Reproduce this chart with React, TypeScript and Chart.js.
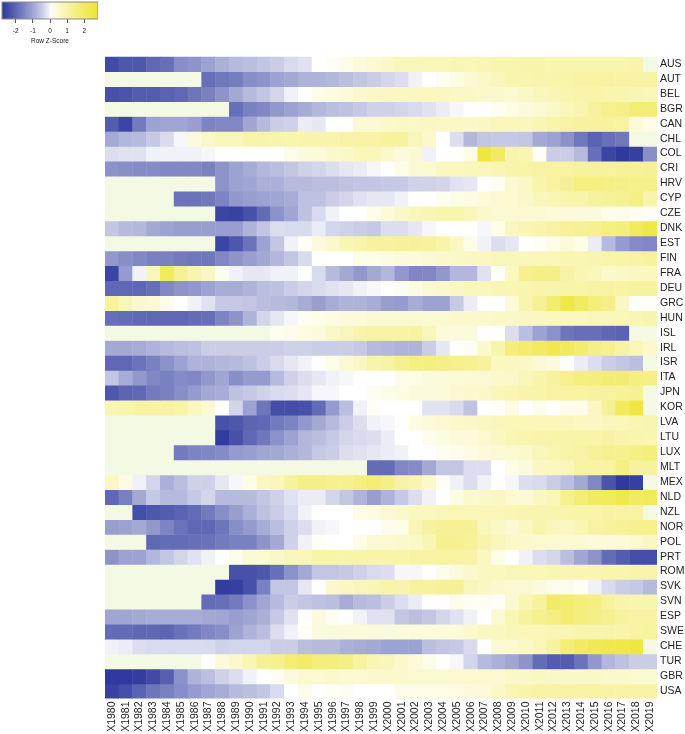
import React, { useEffect, useRef } from "react";
import { Chart, registerables } from "chart.js";

Chart.register(...registerables);

const N = null;
const years = Array.from({ length: 40 }, (_, i) => "X" + (1980 + i));
const countries = ["AUS","AUT","BEL","BGR","CAN","CHL","COL","CRI","HRV","CYP","CZE","DNK","EST","FIN","FRA","DEU","GRC","HUN","ISL","IRL","ISR","ITA","JPN","KOR","LVA","LTU","LUX","MLT","MEX","NLD","NZL","NOR","POL","PRT","ROM","SVK","SVN","ESP","SWE","CHE","TUR","GBR","USA"];

const AUS = [-2.5,-2.3,-2.3,-2.0,-1.9,-1.4,-1.3,-1.1,-.9,-.75, -.7,-.6,-.5,-.35,-.25,0,.05,.15,.3,.45, .55,.7,.75,.75,.75,.8,.75,.8,.85,.85, .9,.9,.85,.85,.85,.85,.85,.85,.9,N];
const AUT = [N,N,N,N,N,N,N,-1.9,-1.75,-1.65, -1.4,-1.3,-1.1,-1,-.85,-.85,-.8,-.7,-.6,-.5, -.4,-.3,-.1,0,.1,.25,.4,.55,.7,.85, .85,.9,.9,.95,1,1,1,1,1,1];
const BEL = [-2.4,-2.35,-2.2,-2.2,-2.1,-2,-1.8,-1.6,-1.3,-1, -.75,-.6,-.4,-.1,0,.15,.25,.35,.5,.55, .6,.65,.65,.65,.6,.55,.55,.5,.5,.45, .55,.7,.8,.85,.9,.95,.85,.85,.8,.75];
const BGR = [N,N,N,N,N,N,N,N,N,-1.9, -1.6,-1.5,-1.25,-1.1,-.95,-.8,-.7,-.65,-.55,-.45, -.45,-.4,-.35,-.25,-.15,-.05,0,0,.1,.2, .3,.4,.55,.7,.85,1.1,1.3,1.4,1.7,1.7];
const CAN = [-2.2,-2.6,-1.7,-1.1,-1.05,-1.05,-1.15,-1.55,-1.5,-1.5, -1.05,-.75,-.5,-.45,-.15,-.2,0,0,.4,.4, .5,.55,.55,.6,.55,.55,.55,.6,.75,.75, .7,.8,.95,1,1.1,1.1,1.1,1.05,.35,.2];
const CHL = [-1,-.8,-.75,-.55,-.35,-.05,.3,.55,.7,.7, .9,.9,.9,.85,.9,.9,.9,1,1,1, 1.1,1.1,.7,.5,0,-.3,-.8,-.6,-.55,-.55, -.6,-1,-1.1,-1.35,-1.75,-2.1,-1.9,-1.75,N,N];
const COL = [-.3,-.25,-.25,-.1,-.1,-.1,-.1,-.05,0,0, 0,0,0,.15,.3,.35,.5,.55,.75,.75, .5,.3,.4,-.1,0,0,.2,2.5,2,.9, .8,.05,-.5,-.5,-.75,-1.9,-2.6,-2.8,-2.7,-1.4];
const CRI = [-1.35,-1.4,-1.45,-1.45,-1.5,-1.5,-1.5,-1.6,-1.3,-1.1, -.95,-.8,-.7,-.6,-.45,-.4,-.3,-.2,-.15,-.05, 0,.2,.4,.45,.6,.65,.7,.75,.8,.9, .95,1,1.05,1.05,1.1,1.1,1.1,1.15,1.15,1.2];
const HRV = [N,N,N,N,N,N,N,N,-1.3,-1.1, -1.05,-.9,-.9,-.75,-.75,-.7,-.7,-.65,-.6,-.6, -.55,-.55,-.45,-.45,-.4,-.25,-.2,0,.1,.45, .55,.9,1.1,1.2,1.5,1.5,1.45,1.4,1.35,1.35];
const CYP = [N,N,N,N,N,-1.85,-1.85,-1.75,-1.55,-1.25, -1.15,-1.1,-1.05,-.95,-.65,-.65,-.5,-.4,-.25,-.2, -.2,-.1,0,0,.1,.2,.25,.35,.4,.45, .55,.7,.8,.9,.95,1.1,1.15,1.25,1.4,.9];
const CZE = [N,N,N,N,N,N,N,N,-2.6,-2.65, -2.4,-1.95,-1.35,-1.05,-.65,-.35,-.1,0,0,.2, .35,.55,.7,.8,.85,.85,.7,.5,.4,.4, .4,.4,.35,.35,.3,.3,.2,.15,.1,.05];
const DNK = [-.6,-.75,-.8,-1,-1.1,-1.15,-1.15,-1.15,-1.15,-1.15, -.85,-.6,-.3,-.35,-.35,-.15,-.4,-.45,-.5,-.55, -.3,-.3,-.2,-.05,0,0,0,-.05,.2,.6, .8,.9,1,1.15,1.2,1.3,1.5,1.6,2.1,2.4];
const EST = [N,N,N,N,N,N,N,N,-2.6,-2.3, -1.85,-1.1,-.6,-.1,.05,.3,.5,.8,.95,1.1, 1.1,1.15,1.15,1.1,.95,.6,.2,-.1,-.3,-.2, 0,.05,.2,.3,.2,-.15,-.75,-1.2,-1.45,-1.5];
const FIN = [-1.25,-1.4,-1.5,-1.6,-1.6,-1.7,-1.75,-1.75,-1.5,-1.3, -1.15,-1,-.8,-.6,-.35,0,0,0,.2,.2, .25,.3,.35,.4,.5,.55,.6,.65,.7,.7, .7,.75,.75,.8,.8,.85,.9,.95,1,1.1];
const FRA = [-2.6,-1.2,-.1,.7,2.1,1.2,.85,.6,.1,-.1, -.2,-.2,-.1,-.1,0,-.35,-.75,-1,-1.25,-1, -.8,-1.25,-1.5,-1.5,-1.25,-.8,-.8,-.25,.05,.6, 1.3,1.4,1.4,1,.8,.7,.5,.55,.6,.65];
const DEU = [-2,-2,-2,-1.9,-1.5,-1.3,-1.25,-1.1,-.95,-.95, -.85,-.7,-.65,-.5,-.4,-.35,-.25,-.2,-.1,-.05, 0,.1,.25,.4,.5,.6,.7,.7,.8,.8, .85,.9,.9,.95,.95,1,1,1.05,1.1,1.1];
const GRC = [1.1,.7,.5,.4,.15,0,-.1,-.25,-.55,-.55, -.6,-.7,-.75,-.8,-.95,-1.15,-.95,-.85,-.85,-.95, -1.15,-1.2,-.95,-1.1,-1.1,-.55,-.15,0,0,.35, .85,1.2,1.8,2.4,2,1.6,1.4,.6,.05,.05];
const HUN = [-1.9,-1.95,-2,-2,-2,-2,-1.95,-1.9,-1.55,-1.3, -.85,-.4,-.2,-.05,.1,.2,.25,.3,.35,.4, .4,.45,.45,.45,.45,.5,.5,.5,.55,.55, .6,.6,.65,.65,.65,.7,.7,.75,.8,.9];
const ISL = [N,N,N,N,N,N,N,N,N,N, N,N,.1,.15,.25,.3,.55,.7,.95,1, 1,1,1.05,.7,.35,.3,.3,0,0,-.3, -.7,-1.1,-1.35,-1.8,-1.9,-1.9,-2,-2.1,N,N];
const IRL = [-1,-1,-.95,-.85,-.75,-.7,-.65,-.5,-.5,-.5, -.5,-.5,-.5,-.45,-.45,-.5,-.5,-.5,-.55,-.75, -.8,-.85,-.85,-.5,-.2,0,.1,.5,.9,1.6, 1.8,2,2.3,2.1,1.8,1.4,1.3,1,.75,.5];
const ISR = [-2,-2,-1.85,-1.6,-1.35,-1.1,-.85,-.85,-.8,-.75, -.65,-.5,-.35,-.2,-.1,0,.2,.4,.6,.9, 1,1.3,1.5,1.5,1.4,1.35,1.25,1.1,.65,.6, .55,.4,.3,0,-.15,-.3,-.5,-.6,-.7,N];
const ITA = [-.6,-.95,-1.25,-1.5,-1.6,-1.45,-1.5,-1.25,-1.05,-1.4, -1.2,-1.2,-.75,-.45,-.3,-.2,-.1,-.05,0,0, 0,.15,.2,.3,.35,.35,.4,.4,.5,.55, .7,.9,1.1,1.3,1.5,1.6,1.7,1.75,1.5,1.4];
const JPN = [-2.3,-2.05,-2,-1.7,-1.6,-1.4,-1.2,-1,-.95,-.65, -.55,-.45,-.35,-.3,-.2,-.05,-.05,0,0,.1, .2,.25,.3,.3,.35,.4,.5,.55,.75,.8, .9,.95,1,1.05,1.05,1.1,1.1,1.15,1.2,N];
const KOR = [.8,.85,1,1,1,.95,.65,.4,0,-.4, -1.1,-1.8,-2.45,-2.45,-2.4,-1.95,-1.2,-.7,-.1,.05, 0,0,0,-.25,-.25,-.35,-.65,0,.03,.25, 0,.15,0,.15,.2,.6,1.2,2.1,2.5,N];
const LVA = [N,N,N,N,N,N,N,N,-2.4,-2.3, -2.05,-2,-1.7,-1.55,-1.25,-1,-.75,-.5,-.3,-.1, -.05,0,.25,.35,.4,.5,.55,.65,.7,.75, .75,.75,.75,.7,.65,.6,.7,.75,.8,.85];
const LTU = [N,N,N,N,N,N,N,N,-2.75,-2.4, -2,-1.75,-1.35,-1.1,-.8,-.7,-.55,-.4,-.35,-.3, -.15,0,0,.15,.25,.3,.35,.45,.65,.8, .85,.9,.95,.95,.95,.95,1,.9,.85,.8];
const LUX = [N,N,N,N,N,-1.7,-1.55,-1.5,-1.45,-1.2, -1.15,-1.05,-1,-.9,-.8,-.55,-.5,-.3,-.25,-.2, -.15,-.1,0,0,.1,.15,.25,.35,.4,.45, .5,.7,.8,.95,1,1.15,1.3,1.3,1.45,1.6];
const MLT = [N,N,N,N,N,N,N,N,N,N, N,N,N,N,N,N,N,N,N,-1.95, -1.95,-1.5,-1.45,-1,-.6,-.6,-.3,-.3,0,.2, .3,.6,.65,.7,1,1,1.05,1.45,1.1,1.1];
const MEX = [.6,.25,-.1,-.4,-.9,-.7,-.45,-.45,-.2,-.05, .2,.6,.75,1.1,1.4,1.4,1.3,1.3,1.5,1.7, 1.4,1,.85,.5,.05,-.1,-.3,-.1,0,-.05, -.3,-.35,-.5,-.7,-1,-1.5,-2.35,-2.8,-2.7,N];
const NLD = [-2,-1.6,-1,-.55,-.75,-.75,-.55,-.4,-.75,-.75, -.75,-.6,-.45,-.25,-.15,-.15,-.4,-.6,-.85,-1.15, -.85,-.55,-.3,-.1,0,.25,.5,.55,.6,.45, .4,.6,.75,1.3,1.7,2,2.1,2.3,2,2.1];
const NZL = [N,N,-2.45,-2.3,-2.2,-2.1,-1.95,-1.7,-1.4,-1.15, -.9,-.65,-.5,-.35,-.1,0,0,0,.2,.25, .4,.5,.6,.65,.7,.75,.75,.75,.75,.8, .85,.85,.85,.9,.95,.95,1,1,1,N];
const NOR = [-1.15,-1.1,-1,-1.25,-1.55,-1.85,-2,-2,-1.8,-1.4, -1.2,-.95,-.7,-.45,-.3,-.1,-.05,0,0,0, .15,.2,.8,1.1,1.2,1.2,1.2,.7,.55,.4, .65,.9,.7,.6,.8,1,1.1,1.2,1.3,1.3];
const POL = [N,N,N,-2,-1.95,-1.95,-1.9,-1.85,-1.7,-1.6, -1.6,-1.3,-1,-.45,-.1,.05,0,0,.2,.4, .45,.5,.55,.8,1.3,1.3,1.15,.9,.7,.55, .5,.45,.45,.45,.4,.35,.35,.35,.45,.6];
const PRT = [-1.3,-1.1,-1.1,-.8,-.6,-.4,-.25,-.1,0,.15, .4,.45,.55,.7,.75,.95,.95,.95,.95,.95, .95,.95,1,1,1.05,1,1,.6,.2,0, -.1,-.3,-.4,-.7,-1.05,-1.3,-1.95,-2.2,-2.45,-2.45];
const ROM = [N,N,N,N,N,N,N,N,N,-2.4, -2.4,-2.3,-1.9,-1.35,-1,-.6,-.6,-.55,-.45,-.35, -.3,-.05,-.05,0,.15,.3,.5,.6,.65,.7, .75,.75,.8,.8,.8,.8,.85,.85,.9,.9];
const SVK = [N,N,N,N,N,N,N,N,-2.75,-2.7, -2.4,-1.6,-.6,-.6,-.2,0,.5,.65,.7,.8, .95,.9,1.1,1.1,1.2,1.2,.7,.6,.5,.45, .4,.3,.15,.15,.05,-.1,-.35,-.5,-.55,-.75];
const SVN = [N,N,N,N,N,N,N,-1.95,-1.9,-1.7, -1.35,-1.05,-.75,-.5,-.6,-.65,-.7,-.95,-.75,-.7, -.5,-.3,-.15,0,0,.15,.1,.1,.05,.4, .8,1.1,1.9,1.8,1.6,1.5,1.1,.9,.85,.85];
const ESP = [-1.05,-1.05,-1,-.95,-.95,-.95,-.95,-1,-1.05,-1.15, -1.05,-.9,-.55,-.25,0,.3,.1,0,-.1,-.25, -.25,-.6,-.7,-.6,-.4,-.25,-.1,0,.4,.8, 1.1,1.3,1.5,1.8,1.6,1.4,1.3,1.1,1,1];
const SWE = [-1.95,-1.95,-2,-2,-2.05,-1.85,-1.7,-1.5,-1.4,-1.1, -.85,-.7,-.3,-.1,.05,.3,.3,.35,.35,.35, .3,.35,.35,.35,.35,.35,.5,.6,.65,.7, .75,.75,.8,.8,.85,.85,.9,.9,1,1.1];
const CHE = [-.1,-.15,-.3,-.35,-.35,-.35,-.35,-.35,-.45,-.4, -.4,-.4,-.5,-.5,-.7,-.75,-.75,-.9,-.95,-1, -1.1,-1.1,-1.1,-.7,-.6,-.55,-.35,0,.4,.45, .55,.75,1.1,1.7,2,2.2,2.3,2.4,2.5,N];
const TUR = [N,N,N,N,N,N,N,0,.3,.5, .8,1.2,1.3,1.7,1.9,1.6,1.55,1.4,1.1,.8, .7,.5,.35,.2,0,-.05,-.4,-.75,-.9,-1.05, -1.3,-1.95,-2.2,-2.2,-1.85,-1.25,-.8,-.65,-.5,-.5];
const GBR = [-2.8,-2.8,-2.75,-2.5,-2.15,-1.35,-.85,-.7,-.45,-.3, -.1,0,.1,.3,.45,.45,.5,.45,.45,.5, .5,.5,.45,.45,.45,.45,.45,.45,.45,.55, .55,.6,.55,.55,.55,.55,.5,.5,.45,.45];
const USA = [-2.65,-2.45,-2.1,-1.8,-1.6,-1.4,-1.2,-1.05,-.95,-.75, -.7,-.6,-.35,0,.15,0,.05,.1,0,0, 0,.15,.2,.2,.2,.25,.3,.35,.55,.8, .9,1,1,1.05,1.05,1.05,1,1,1,1];

const rows: (number | null)[][] = [AUS,AUT,BEL,BGR,CAN,CHL,COL,CRI,HRV,CYP,CZE,DNK,EST,FIN,FRA,DEU,GRC,HUN,ISL,IRL,ISR,ITA,JPN,KOR,LVA,LTU,LUX,MLT,MEX,NLD,NZL,NOR,POL,PRT,ROM,SVK,SVN,ESP,SWE,CHE,TUR,GBR,USA];

const keyTicks = [-2, -1, 0, 1, 2];
const keyLimit = 2.8;
const BLUE = [47, 58, 158];
const YELLOW = [238, 228, 48];
const MISSING = "#f3f9e2";

function colour(v: number | null): string {
  if (v === null) return MISSING;
  const t = Math.pow(Math.min(1, Math.abs(v) / keyLimit), 0.8);
  const c = v < 0 ? BLUE : YELLOW;
  const m = (k: number) => Math.round(255 + (c[k] - 255) * t);
  return `rgb(${m(0)},${m(1)},${m(2)})`;
}

const TEXT = "#222";
const FONT = "'Liberation Sans', Arial, sans-serif";

const keyFrame = {
  id: "keyFrame",
  afterDraw(chart: any) {
    const { ctx, chartArea: a } = chart;
    ctx.save();
    ctx.strokeStyle = "#8a8a8a";
    ctx.lineWidth = 1;
    ctx.strokeRect(a.left, a.top, a.right - a.left, a.bottom - a.top);
    ctx.restore();
  },
};

export default function App() {
  const mainRef = useRef<HTMLCanvasElement>(null);
  const keyRef = useRef<HTMLCanvasElement>(null);

  useEffect(() => {
    const main = new Chart(mainRef.current!, {
      type: "bar",
      data: {
        labels: years,
        datasets: rows.map((row, r) => ({
          label: countries[r],
          data: row.map(() => [r, r + 1.04]) as any,
          backgroundColor: row.map(colour),
          borderWidth: 0,
          barPercentage: 1.03,
          categoryPercentage: 1,
        })),
      },
      options: {
        animation: false,
        responsive: false,
        layout: { padding: { left: 105, top: 56.5, right: 0, bottom: 0 } },
        plugins: { legend: { display: false }, tooltip: { enabled: false } },
        scales: {
          x: {
            stacked: true,
            grid: { display: false, drawTicks: false },
            border: { display: false },
            afterFit: (s: any) => { s.height = 35.5; },
            ticks: {
              autoSkip: false, minRotation: 90, maxRotation: 90, padding: 3,
              color: TEXT, font: { family: FONT, size: 10.5 },
            },
          },
          y: {
            position: "right",
            min: 0,
            max: rows.length,
            reverse: true,
            grid: { display: false, drawTicks: false },
            border: { display: false },
            afterBuildTicks: (s: any) => { s.ticks = countries.map((_, i) => ({ value: i + 0.5 })); },
            afterFit: (s: any) => { s.width = 28; },
            ticks: {
              autoSkip: false, padding: 3, color: TEXT, font: { family: FONT, size: 10.5 },
              callback: (v: any) => countries[Math.floor(Number(v))],
            },
          },
        },
      },
    });

    const steps = Array.from({ length: 56 }, (_, i) => -keyLimit + i * 0.1);
    const key = new Chart(keyRef.current!, {
      type: "bar",
      data: {
        labels: ["key"],
        datasets: steps.map((s) => ({
          data: [[s, s + 0.12]] as any,
          backgroundColor: colour(s + 0.05),
          borderWidth: 0,
          barPercentage: 1,
          categoryPercentage: 1,
        })),
      },
      options: {
        indexAxis: "y",
        animation: false,
        responsive: false,
        layout: { padding: { left: 2, top: 2, right: 0, bottom: 0 } },
        plugins: { legend: { display: false }, tooltip: { enabled: false } },
        scales: {
          y: { stacked: true, display: false },
          x: {
            min: -keyLimit,
            max: keyLimit,
            afterBuildTicks: (s: any) => { s.ticks = keyTicks.map((value) => ({ value })); },
            afterFit: (s: any) => { s.height = 27; },
            grid: { display: true, drawOnChartArea: false, drawTicks: true, tickLength: 4, tickColor: "#555" },
            border: { display: false },
            ticks: { padding: 4, color: TEXT, font: { family: FONT, size: 6.5 }, maxRotation: 0 },
            title: { display: true, text: "Row Z-Score", color: TEXT, font: { family: FONT, size: 6.5 }, padding: 1 },
          },
        },
      },
      plugins: [keyFrame],
    });
    return () => { main.destroy(); key.destroy(); };
  }, []);

  return (
    <div style={{ position: "fixed", left: 0, top: 0, width: 685, height: 734, background: "#fff" }}>
      <canvas ref={mainRef} width={685} height={734} style={{ position: "absolute", left: 0, top: 0 }} />
      <canvas ref={keyRef} width={98} height={46} style={{ position: "absolute", left: 0, top: 0 }} />
    </div>
  );
}
